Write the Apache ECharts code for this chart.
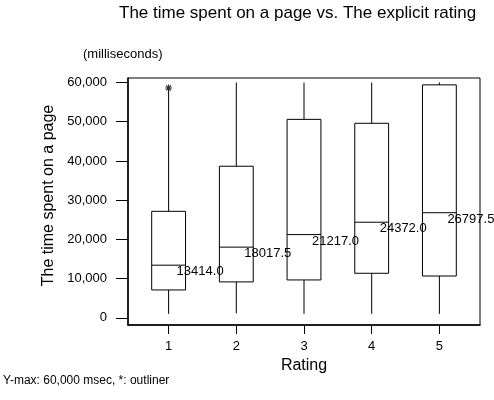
<!DOCTYPE html>
<html>
<head>
<meta charset="utf-8">
<script src="https://cdn.jsdelivr.net/npm/echarts@6/dist/echarts.min.js"></script>
<style>
    html, body {margin: 0; padding: 0; background: #fff;}
    #main {width: 494px; height: 400px;}
</style>
</head>
<body>
<div id="main"></div>
<script>
    // values
    var ratings = [1, 2, 3, 4, 5];
    var whiskerLow = [1000, 1150, 1000, 1000, 1000];
    var q1 = [7100, 9150, 9650, 11350, 10650];
    var medians = [13414.0, 18017.5, 21217.0, 24372.0, 26797.5];
    var q3 = [27150, 38650, 50600, 49600, 59400];
    var whiskerHigh = [58000, 60000, 60000, 60000, 60000];
    var outliers = [[1, 58600]];
    var yTicks = [0, 10000, 20000, 30000, 40000, 50000, 60000];

    var font = 'Liberation Sans, Arial, sans-serif';
    var boxWidth = 0.5; // in rating units

    var boxData = [];
    for (var i = 0; i < ratings.length; i++) {
        boxData.push([ratings[i], whiskerLow[i], q1[i], medians[i], q3[i], whiskerHigh[i]]);
    }

    function renderBox(params, api) {
        var x = api.value(0);
        var lo = api.coord([x, api.value(1)]);
        var b1 = api.coord([x, api.value(2)]);
        var md = api.coord([x, api.value(3)]);
        var b3 = api.coord([x, api.value(4)]);
        var hi = api.coord([x, api.value(5)]);
        var w = api.size([boxWidth, 0])[0];
        var line = {stroke: '#000', lineWidth: 1};
        return {
            type: 'group',
            children: [
                {type: 'line', shape: {x1: lo[0], y1: lo[1], x2: b1[0], y2: b1[1]}, style: line},
                {type: 'line', shape: {x1: b3[0], y1: b3[1], x2: hi[0], y2: hi[1]}, style: line},
                {type: 'rect', shape: {x: b3[0] - w / 2, y: b3[1], width: w, height: b1[1] - b3[1]},
                    style: {stroke: '#000', lineWidth: 1, fill: 'none'}},
                {type: 'line', shape: {x1: md[0] - w / 2, y1: md[1], x2: md[0] + w / 2, y2: md[1]}, style: line},
                {type: 'text', x: md[0] + 8, y: md[1] + 6.5, z2: 10,
                    style: {text: api.value(3).toFixed(1), fill: '#000', font: '13px ' + font,
                        align: 'left', verticalAlign: 'middle'}}
            ]
        };
    }

    var myChart = echarts.init(document.getElementById('main'));
    var option = {
        backgroundColor: '#fff',
        animation: false,
        title: [
            {text: 'The time spent on a page vs. The explicit rating', left: 119, top: 5, padding: 0,
                textStyle: {fontFamily: font, fontSize: 17, fontWeight: 'normal', color: '#000'}},
            {text: '(milliseconds)', left: 83, top: 48, padding: 0,
                textStyle: {fontFamily: font, fontSize: 13, fontWeight: 'normal', color: '#000'}},
            {text: 'Y-max: 60,000 msec, *: outliner', left: 3, top: 375, padding: 0,
                textStyle: {fontFamily: font, fontSize: 12, fontWeight: 'normal', color: '#000'}}
        ],
        grid: {
            left: 128,
            right: 14,
            top: 78,
            bottom: 75,
            show: true,
            borderColor: '#000',
            borderWidth: 1
        },
        xAxis: {
            type: 'value',
            min: 0.4,
            max: 5.6,
            name: 'Rating',
            nameLocation: 'middle',
            nameGap: 19,
            nameTextStyle: {fontFamily: font, fontSize: 16, color: '#000'},
            axisLine: {show: true, onZero: false, lineStyle: {color: '#000', width: 1.5}},
            axisTick: {show: true, length: 9, customValues: ratings, lineStyle: {color: '#000'}},
            axisLabel: {
                customValues: ratings, margin: 15,
                fontFamily: font, fontSize: 13, color: '#000'
            },
            splitLine: {show: false}
        },
        yAxis: {
            type: 'value',
            min: -1840,
            max: 61150,
            name: 'The time spent on a page',
            nameLocation: 'middle',
            nameGap: 64,
            nameTextStyle: {fontFamily: font, fontSize: 16, color: '#000', padding: [0, 0, 0, 12]},
            axisLine: {show: true, onZero: false, lineStyle: {color: '#000', width: 1.5}},
            axisTick: {show: true, length: 12, customValues: yTicks, lineStyle: {color: '#000'}},
            axisLabel: {
                customValues: yTicks, margin: 21,
                fontFamily: font, fontSize: 13, color: '#000',
                formatter: function (v) {
                    return v.toLocaleString('en-US');
                }
            },
            splitLine: {show: false}
        },
        series: [
            {
                type: 'custom',
                renderItem: renderBox,
                encode: {x: 0, y: [1, 2, 3, 4, 5]},
                data: boxData
            },
            {
                type: 'scatter',
                symbol: 'path://M5,0L5,10M0,5L10,5M1.5,1.5L8.5,8.5M1.5,8.5L8.5,1.5',
                symbolSize: [7, 7],
                itemStyle: {color: 'transparent', borderColor: '#000', borderWidth: 1.2},
                data: outliers
            }
        ]
    };
    myChart.setOption(option);
</script>
</body>
</html>
